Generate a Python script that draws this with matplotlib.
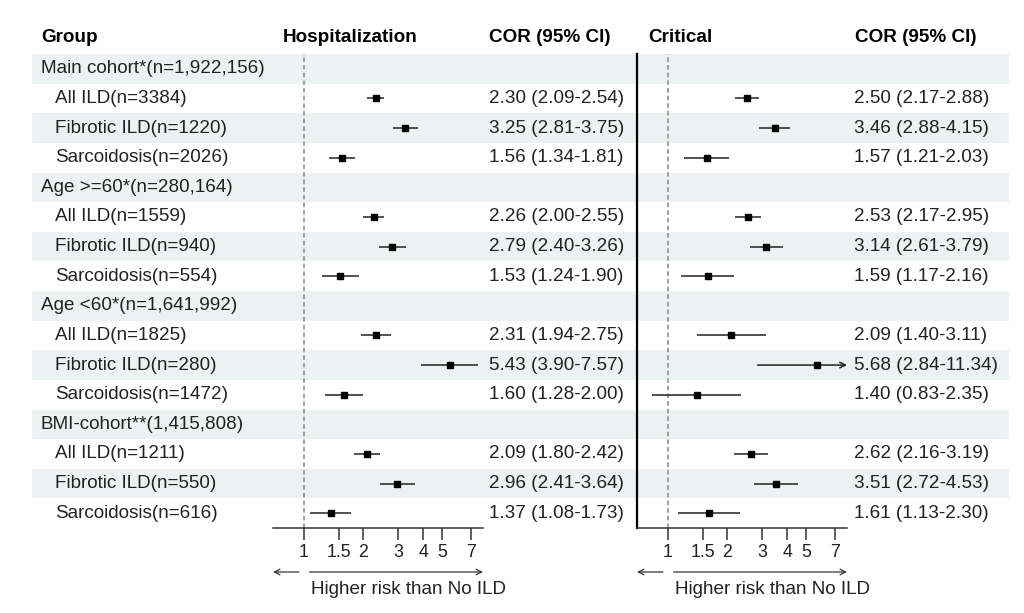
import matplotlib
matplotlib.use('Agg')
import matplotlib.pyplot as plt
import numpy as np

plt.rcParams['font.family'] = ['Liberation Sans', 'DejaVu Sans']

nan = np.nan
labels = ["Main cohort*(n=1,922,156)", "All ILD(n=3384)", "Fibrotic ILD(n=1220)", "Sarcoidosis(n=2026)",
          "Age >=60*(n=280,164)", "All ILD(n=1559)", "Fibrotic ILD(n=940)", "Sarcoidosis(n=554)",
          "Age <60*(n=1,641,992)", "All ILD(n=1825)", "Fibrotic ILD(n=280)", "Sarcoidosis(n=1472)",
          "BMI-cohort**(1,415,808)", "All ILD(n=1211)", "Fibrotic ILD(n=550)", "Sarcoidosis(n=616)"]
is_group = [True, False, False, False] * 4

hosp_est = [nan, 2.30, 3.25, 1.56, nan, 2.26, 2.79, 1.53, nan, 2.31, 5.43, 1.60, nan, 2.09, 2.96, 1.37]
hosp_lo = [nan, 2.09, 2.81, 1.34, nan, 2.00, 2.40, 1.24, nan, 1.94, 3.90, 1.28, nan, 1.80, 2.41, 1.08]
hosp_hi = [nan, 2.54, 3.75, 1.81, nan, 2.55, 3.26, 1.90, nan, 2.75, 7.57, 2.00, nan, 2.42, 3.64, 1.73]

crit_est = [nan, 2.50, 3.46, 1.57, nan, 2.53, 3.14, 1.59, nan, 2.09, 5.68, 1.40, nan, 2.62, 3.51, 1.61]
crit_lo = [nan, 2.17, 2.88, 1.21, nan, 2.17, 2.61, 1.17, nan, 1.40, 2.84, 0.83, nan, 2.16, 2.72, 1.13]
crit_hi = [nan, 2.88, 4.15, 2.03, nan, 2.95, 3.79, 2.16, nan, 3.11, 11.34, 2.35, nan, 3.19, 4.53, 2.30]

ticks = [1, 1.5, 2, 3, 4, 5, 7]
tick_labels = ["1", "1.5", "2", "3", "4", "5", "7"]
xlim = (0.7, 8.0)
ref = 1

W, H = 1024, 613
FS = 13.6
TXT = '#222222'

fig = plt.figure(figsize=(W / 100, H / 100), dpi=100)


def rect(x0, y0, x1, y1):
    return [x0 / W, 1 - y1 / H, (x1 - x0) / W, (y1 - y0) / H]


top, bottom = 54, 528
n = len(labels)
rows = np.arange(n)

ax_bg = fig.add_axes(rect(0, top, W, bottom), zorder=0)
ax_bg.set_xlim(0, W)
ax_bg.set_ylim(n - 0.5, -0.5)
ax_bg.axis('off')

for i in range(0, n, 2):
    ax_bg.axhspan(i - 0.5, i + 0.5, xmin=32 / W, xmax=1009 / W, color='#eef1f1', lw=0)

hdr_y = -1.06
ax_bg.text(41, hdr_y, "Group", fontsize=FS, fontweight='bold', va='center', ha='left', color='black')
ax_bg.text(283, hdr_y, "Hospitalization", fontsize=FS, fontweight='bold', va='center', ha='left', color='black')
ax_bg.text(489, hdr_y, "COR (95% CI)", fontsize=FS, fontweight='bold', va='center', ha='left', color='black')
ax_bg.text(648, hdr_y, "Critical", fontsize=FS, fontweight='bold', va='center', ha='left', color='black')
ax_bg.text(855, hdr_y, "COR (95% CI)", fontsize=FS, fontweight='bold', va='center', ha='left', color='black')

for i, (lab, g) in enumerate(zip(labels, is_group)):
    ax_bg.text(41 if g else 55, i, lab, fontsize=FS, va='center', ha='left', color=TXT)

for i in range(n):
    if not np.isnan(hosp_est[i]):
        ax_bg.text(489, i, f"{hosp_est[i]:.2f} ({hosp_lo[i]:.2f}-{hosp_hi[i]:.2f})",
                   fontsize=FS, va='center', ha='left', color=TXT)
    if not np.isnan(crit_est[i]):
        ax_bg.text(854, i, f"{crit_est[i]:.2f} ({crit_lo[i]:.2f}-{crit_hi[i]:.2f})",
                   fontsize=FS, va='center', ha='left', color=TXT)


def forest(ax, est, lo, hi, left_spine):
    ax.set_xscale('log')
    ax.set_xlim(*xlim)
    ax.set_ylim(n - 0.5, -0.5)
    ax.patch.set_alpha(0)
    for s in ['top', 'right']:
        ax.spines[s].set_visible(False)
    if left_spine:
        ax.spines['left'].set_linewidth(1.6)
        ax.spines['left'].set_color('black')
    else:
        ax.spines['left'].set_visible(False)
    ax.spines['bottom'].set_linewidth(1.1)
    ax.spines['bottom'].set_color('#333333')
    ax.set_yticks([])
    ax.set_xticks(ticks)
    ax.set_xticklabels(tick_labels)
    ax.minorticks_off()
    ax.tick_params(axis='x', direction='out', length=8.5, width=1.1, color='#333333',
                   labelsize=12.8, labelcolor=TXT, pad=3)
    ax.axvline(ref, color='#888888', ls=(0, (3, 2)), lw=1.1, zorder=1)
    est = np.array(est); lo = np.array(lo); hi = np.array(hi)
    for i in range(n):
        if np.isnan(est[i]):
            continue
        l = max(lo[i], xlim[0]); h = min(hi[i], xlim[1])
        if hi[i] > xlim[1]:
            ax.annotate('', xy=(h, i), xytext=(l, i),
                        arrowprops=dict(arrowstyle='->', lw=1.1, color='#222222',
                                        shrinkA=0, shrinkB=0), annotation_clip=False)
        else:
            ax.hlines(i, l, h, color='#222222', lw=1.1, zorder=2)
    ax.plot(est, rows, 's', color='black', ms=5, zorder=3, clip_on=False)
    # direction arrows below axis
    ya = -(572 - bottom) / (bottom - top)
    tr = ax.get_xaxis_transform()
    ax.annotate('', xy=(xlim[0], ya), xytext=(ref * 0.945, ya), xycoords=tr,
                arrowprops=dict(arrowstyle='->', lw=0.9, color='#333333', shrinkA=0, shrinkB=0),
                annotation_clip=False)
    ax.annotate('', xy=(xlim[1], ya), xytext=(ref * 1.07, ya), xycoords=tr,
                arrowprops=dict(arrowstyle='->', lw=0.9, color='#333333', shrinkA=0, shrinkB=0),
                annotation_clip=False)
    ax.text(ref * 1.085, -(590 - bottom) / (bottom - top), "Higher risk than No ILD", transform=tr,
            fontsize=FS, va='center', ha='left', color=TXT)


ax_h = fig.add_axes(rect(273, top, 483, bottom), zorder=2)
forest(ax_h, hosp_est, hosp_lo, hosp_hi, False)
ax_c = fig.add_axes(rect(637, top, 847, bottom), zorder=2)
forest(ax_c, crit_est, crit_lo, crit_hi, True)

fig.savefig('out.png', dpi=100)
